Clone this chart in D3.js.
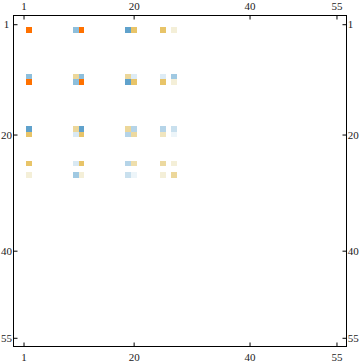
<!DOCTYPE html>
<html>
<head>
<meta charset="utf-8">
<script src="https://cdn.jsdelivr.net/npm/d3@7"></script>
<style>
  html, body { margin: 0; padding: 0; background: #fff; }
  svg { display: block; }
  text { font-family: "Liberation Serif", "DejaVu Serif", serif; font-size: 11px; fill: #222; }
</style>
</head>
<body>
<svg id="chart" width="360" height="363"></svg>
<script>
// Matrix size
const nRows = 55;
const nCols = 55;
// Non-zero rows/columns of the sparse matrix
const rowIdx = [2, 10, 11, 19, 20, 25, 27];
const colIdx = [2, 10, 11, 19, 20, 25, 27];
// Values (rows in rowIdx order, columns in colIdx order)
const row2  = [1.0, -0.5, 1.0, -0.72, 0.5, 0.5, 0.12];
const row10 = [-0.5, 0.32, -0.5, 0.32, -0.15, -0.15, -0.42];
const row11 = [1.0, -0.5, 1.0, -0.72, 0.5, 0.5, 0.12];
const row19 = [-0.72, 0.32, -0.72, 0.32, -0.33, -0.33, -0.24];
const row20 = [0.5, -0.17, 0.5, -0.33, 0.3, 0.2, -0.08];
const row25 = [0.5, -0.17, 0.5, -0.33, 0.26, 0.3, 0.12];
const row27 = [0.12, -0.42, 0.12, -0.24, -0.08, 0.12, 0.32];
const values = [row2, row10, row11, row19, row20, row25, row27];
// Tick labels
const xTicks = [1, 20, 40, 55];
const yTicks = [1, 20, 40, 55];

const mLeft = 13.5, mRight = 346.5, mTop = 15.5, mBottom = 346.5;
const padX = 1.23, padY = 1.0;

const x = d3.scaleLinear().domain([0.5 - padX, nCols + 0.5 + padX]).range([mLeft, mRight]);
const y = d3.scaleLinear().domain([0.5 - padY, nRows + 0.5 + padY]).range([mTop, mBottom]);

const color = d3.scaleLinear()
  .domain([-1, -0.7, -0.5, -0.3, 0, 0.12, 0.3, 0.5, 0.75, 1])
  .range(["#3f88bf", "#62a4cd", "#8dbfdc", "#bcd8ea", "#ffffff", "#f4efd8", "#ecd9a0", "#e8c468", "#f49a3a", "#ff7100"])
  .interpolate(d3.interpolateRgb);

const svg = d3.select("#chart");

const cells = [];
rowIdx.forEach((r, i) => colIdx.forEach((c, j) => {
  const v = values[i][j];
  if (v !== 0) cells.push({ r, c, v });
}));

svg.append("g")
  .selectAll("rect")
  .data(cells)
  .join("rect")
  .attr("x", d => x(d.c - 0.5))
  .attr("y", d => y(d.r - 0.5))
  .attr("width", d => x(d.c + 0.5) - x(d.c - 0.5))
  .attr("height", d => y(d.r + 0.5) - y(d.r - 0.5))
  .attr("fill", d => color(d.v))
  .attr("shape-rendering", "crispEdges");

// Frame
svg.append("rect")
  .attr("x", mLeft).attr("y", mTop)
  .attr("width", mRight - mLeft).attr("height", mBottom - mTop)
  .attr("fill", "none").attr("stroke", "#000").attr("stroke-width", 1);

// Axes (ticks inward)
const tickLen = 4;
const axTop = d3.axisTop(x).tickValues(xTicks).tickSize(-tickLen).tickPadding(6);
const axBottom = d3.axisBottom(x).tickValues(xTicks).tickSize(-tickLen).tickPadding(6.5);
const axLeft = d3.axisLeft(y).tickValues(yTicks).tickSize(-tickLen);
const axRight = d3.axisRight(y).tickValues(yTicks).tickSize(-tickLen);

function styleAxis(g) {
  g.select(".domain").remove();
  g.selectAll(".tick line").attr("stroke", "#000");
  g.selectAll(".tick text").attr("fill", "#222")
    .style("font-family", "'Liberation Serif', serif").style("font-size", "11px");
}
svg.append("g").attr("transform", `translate(0,${mTop})`).call(axTop).call(styleAxis);
svg.append("g").attr("transform", `translate(0,${mBottom})`).call(axBottom).call(styleAxis);
svg.append("g").attr("transform", `translate(${mLeft},0)`).call(axLeft).call(styleAxis)
  .selectAll(".tick text").attr("text-anchor", "middle").attr("x", 6.4 - mLeft);
svg.append("g").attr("transform", `translate(${mRight},0)`).call(axRight).call(styleAxis)
  .selectAll(".tick text").attr("text-anchor", "start").attr("x", 1.2);
</script>
</body>
</html>
